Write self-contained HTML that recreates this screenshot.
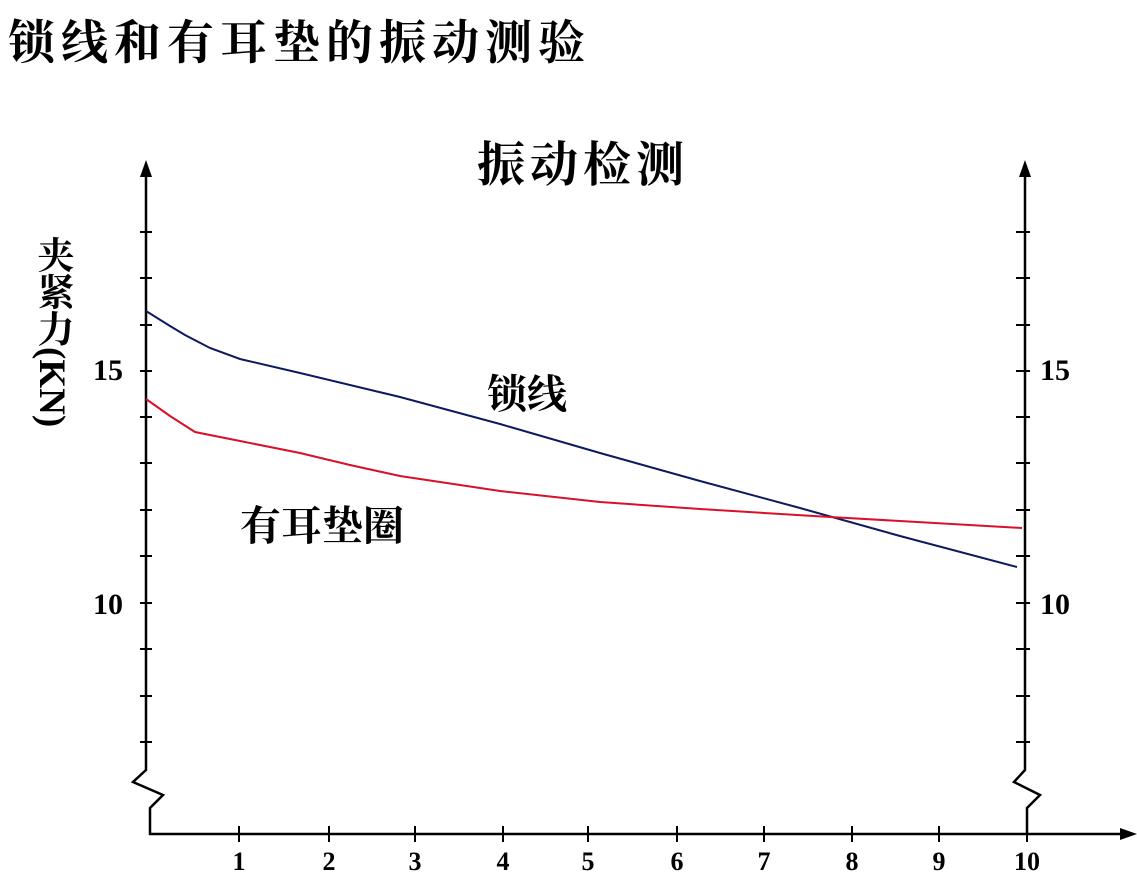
<!DOCTYPE html>
<html><head><meta charset="utf-8"><style>
body{margin:0;width:1137px;height:880px;background:#fff;overflow:hidden;position:relative;font-family:"Liberation Serif","Noto Serif CJK SC",serif;}
.t{position:absolute;font-weight:bold;color:#000;white-space:nowrap;}
</style></head><body>
<div class="t" style="left:8px;top:6px;font-size:47px;letter-spacing:6px;">锁线和有耳垫的振动测验</div>
<div class="t" style="left:477px;top:126px;font-size:48px;letter-spacing:5px;">振动检测</div>
<div class="t" style="left:30px;top:236px;font-size:37px;writing-mode:vertical-rl;line-height:42px;">夹紧力(KN)</div>
<div class="t" style="left:487px;top:363px;font-size:40px;">锁线</div>
<div class="t" style="left:240px;top:493px;font-size:41px;">有耳垫圈</div>
<svg width="1137" height="880" style="position:absolute;left:0;top:0" font-family="Liberation Serif" font-weight="bold" font-size="26">
<g stroke="#000" stroke-width="2.5" fill="none">
<polyline points="146,166 146,770 133,782 163,795 150,808 150,834 1122,834"/>
<polyline points="1025,166 1025,770 1014,782 1040,795 1027,808 1027,834"/>
</g>
<polygon points="146,160 140,177 152,177" fill="#000"/>
<polygon points="1025,160 1019,177 1031,177" fill="#000"/>
<polygon points="1137,834 1120,828 1120,840" fill="#000"/>
<g stroke="#000" stroke-width="2">
<path d="M140 232H152M140 278H152M140 325H152M140 371H152M140 417H152M140 463H152M140 510H152M140 556H152M140 603H152M140 649H152M140 696H152M140 742H152"/>
<path d="M1016 232H1030M1016 278H1030M1016 325H1030M1016 371H1030M1016 417H1030M1016 463H1030M1016 510H1030M1016 556H1030M1016 603H1030M1016 649H1030M1016 696H1030M1016 742H1030"/>
<path d="M239 826V842M329 826V842M415 826V842M503 826V842M588 826V842M677 826V842M764 826V842M852 826V842M939 826V842M1027 826V842"/>
</g>
<g font-size="30">
<text x="93" y="380">15</text><text x="93" y="614">10</text>
<text x="1040" y="380">15</text><text x="1040" y="614">10</text>
</g>
<g text-anchor="middle">
<text x="239" y="870">1</text><text x="329" y="870">2</text><text x="415" y="870">3</text><text x="503" y="870">4</text><text x="588" y="870">5</text><text x="677" y="870">6</text><text x="764" y="870">7</text><text x="852" y="870">8</text><text x="939" y="870">9</text><text x="1027" y="870">10</text>
</g>
<polyline fill="none" stroke="#0d1a5e" stroke-width="2" points="146,311 170,326 185,335 210,348 240,359 300,373 400,397 500,424 600,453 700,481 800,508 900,536 1017,567"/>
<polyline fill="none" stroke="#d8102a" stroke-width="2" points="146,399 170,416 195,432 240,441 300,453 350,465 400,476 500,491 600,502 700,509 830,517 1022,528"/>
</svg>
</body></html>
